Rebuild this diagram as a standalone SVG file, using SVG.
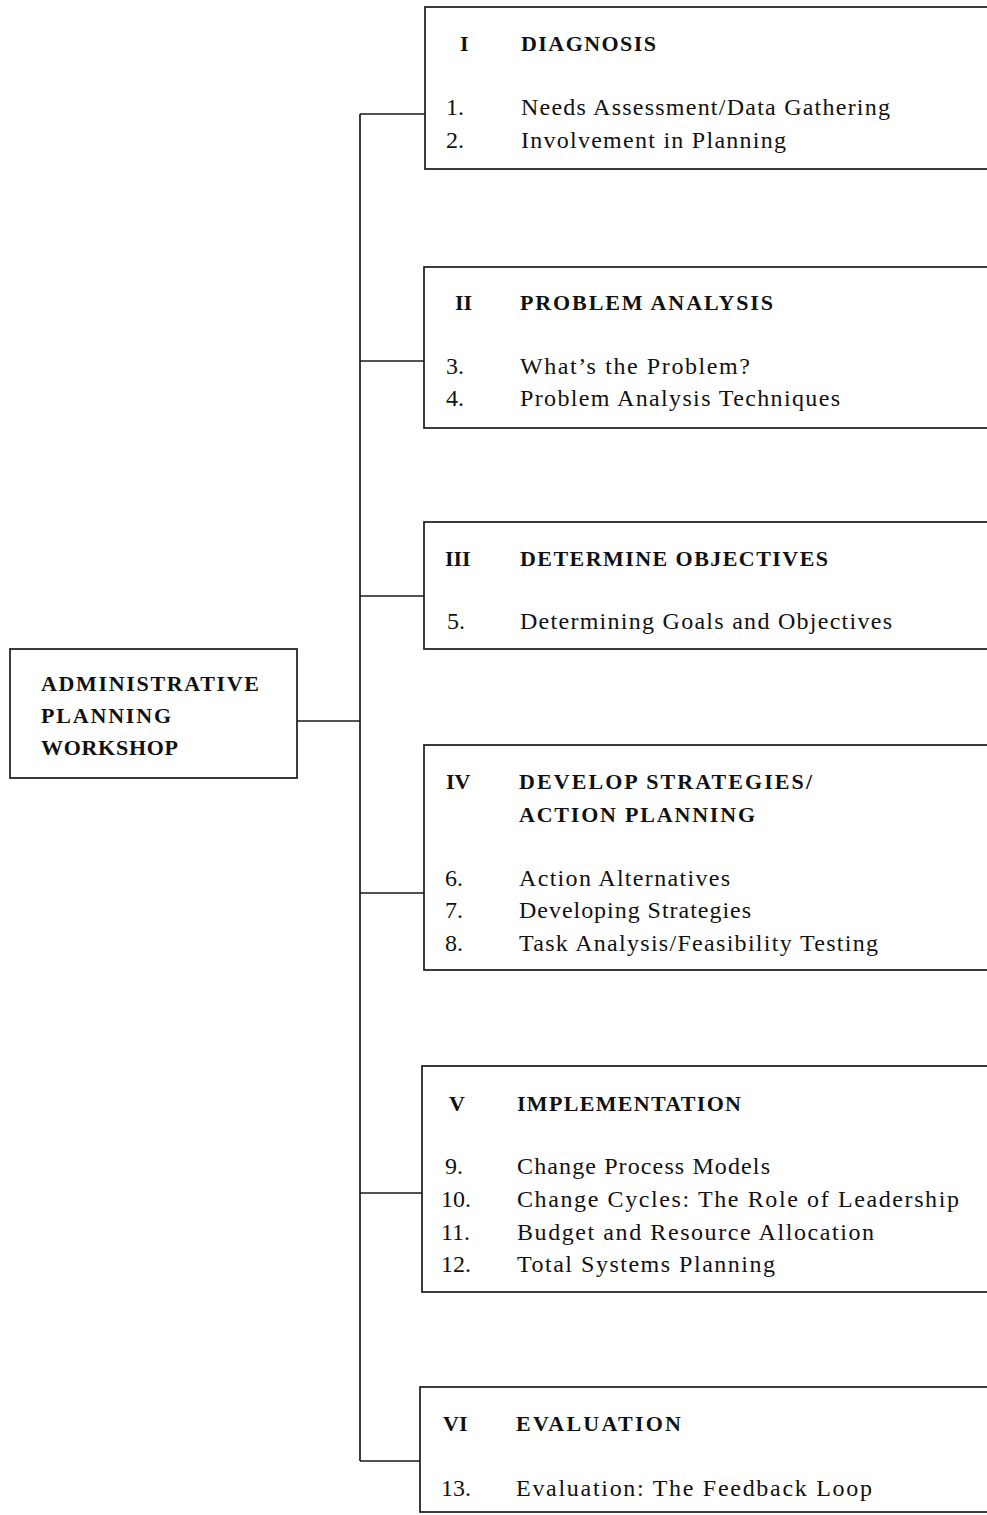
<svg xmlns="http://www.w3.org/2000/svg" width="987" height="1515" viewBox="0 0 987 1515">
<style>
.box{fill:none;stroke:#1a1a1a;stroke-width:1.7}
.con{fill:none;stroke:#1a1a1a;stroke-width:1.7}
.h{font-family:"Liberation Serif","Times New Roman",serif;font-size:22px;font-weight:bold;fill:#111}
.t{font-family:"Liberation Serif","Times New Roman",serif;font-size:24px;fill:#111}
</style>
<rect width="987" height="1515" fill="#fff"/>
<g id="connectors">
<path class="con" d="M297 721H360M360 114V1461M360 114H425M360 361H424M360 596H424M360 893H424M360 1193H422M360 1461H420"/>
</g>
<g id="root">
<rect class="box" x="10" y="649" width="287" height="129"/>
<text class="h" x="41" y="691" textLength="218" lengthAdjust="spacing">ADMINISTRATIVE</text>
<text class="h" x="41" y="723" textLength="130" lengthAdjust="spacing">PLANNING</text>
<text class="h" x="41" y="755" textLength="137" lengthAdjust="spacing">WORKSHOP</text>
</g>
<g id="diagnosis">
<rect class="box" x="425" y="7" width="580" height="162"/>
<text class="h" x="460" y="51">I</text>
<text class="h" x="521" y="51" textLength="135" lengthAdjust="spacing">DIAGNOSIS</text>
<text class="t" x="446" y="115">1.</text>
<text class="t" x="521" y="115" textLength="369" lengthAdjust="spacing">Needs Assessment/Data Gathering</text>
<text class="t" x="446" y="148">2.</text>
<text class="t" x="521" y="148" textLength="265" lengthAdjust="spacing">Involvement in Planning</text>
</g>
<g id="problem-analysis">
<rect class="box" x="424" y="267" width="580" height="161"/>
<text class="h" x="455" y="310">II</text>
<text class="h" x="520" y="310" textLength="253" lengthAdjust="spacing">PROBLEM ANALYSIS</text>
<text class="t" x="446" y="374">3.</text>
<text class="t" x="520" y="374" textLength="230" lengthAdjust="spacing">What’s the Problem?</text>
<text class="t" x="446" y="406">4.</text>
<text class="t" x="520" y="406" textLength="320" lengthAdjust="spacing">Problem Analysis Techniques</text>
</g>
<g id="determine-objectives">
<rect class="box" x="424" y="522" width="580" height="127"/>
<text class="h" x="445" y="566">III</text>
<text class="h" x="520" y="566" textLength="308" lengthAdjust="spacing">DETERMINE OBJECTIVES</text>
<text class="t" x="447" y="629">5.</text>
<text class="t" x="520" y="629" textLength="372" lengthAdjust="spacing">Determining Goals and Objectives</text>
</g>
<g id="develop-strategies">
<rect class="box" x="424" y="745" width="580" height="225"/>
<text class="h" x="446" y="789">IV</text>
<text class="h" x="519" y="789" textLength="293" lengthAdjust="spacing">DEVELOP STRATEGIES/</text>
<text class="h" x="519" y="822" textLength="236" lengthAdjust="spacing">ACTION PLANNING</text>
<text class="t" x="445" y="886">6.</text>
<text class="t" x="519" y="886" textLength="211" lengthAdjust="spacing">Action Alternatives</text>
<text class="t" x="445" y="918">7.</text>
<text class="t" x="519" y="918" textLength="232" lengthAdjust="spacing">Developing Strategies</text>
<text class="t" x="445" y="951">8.</text>
<text class="t" x="519" y="951" textLength="359" lengthAdjust="spacing">Task Analysis/Feasibility Testing</text>
</g>
<g id="implementation">
<rect class="box" x="422" y="1066" width="580" height="226"/>
<text class="h" x="449" y="1111">V</text>
<text class="h" x="517" y="1111" textLength="224" lengthAdjust="spacing">IMPLEMENTATION</text>
<text class="t" x="445" y="1174">9.</text>
<text class="t" x="517" y="1174" textLength="253" lengthAdjust="spacing">Change Process Models</text>
<text class="t" x="441" y="1207">10.</text>
<text class="t" x="517" y="1207" textLength="442" lengthAdjust="spacing">Change Cycles: The Role of Leadership</text>
<text class="t" x="441" y="1240">11.</text>
<text class="t" x="517" y="1240" textLength="357" lengthAdjust="spacing">Budget and Resource Allocation</text>
<text class="t" x="441" y="1272">12.</text>
<text class="t" x="517" y="1272" textLength="258" lengthAdjust="spacing">Total Systems Planning</text>
</g>
<g id="evaluation">
<rect class="box" x="420" y="1387" width="580" height="125"/>
<text class="h" x="443" y="1431">VI</text>
<text class="h" x="516" y="1431" textLength="165" lengthAdjust="spacing">EVALUATION</text>
<text class="t" x="441" y="1496">13.</text>
<text class="t" x="516" y="1496" textLength="356" lengthAdjust="spacing">Evaluation: The Feedback Loop</text>
</g>
</svg>
